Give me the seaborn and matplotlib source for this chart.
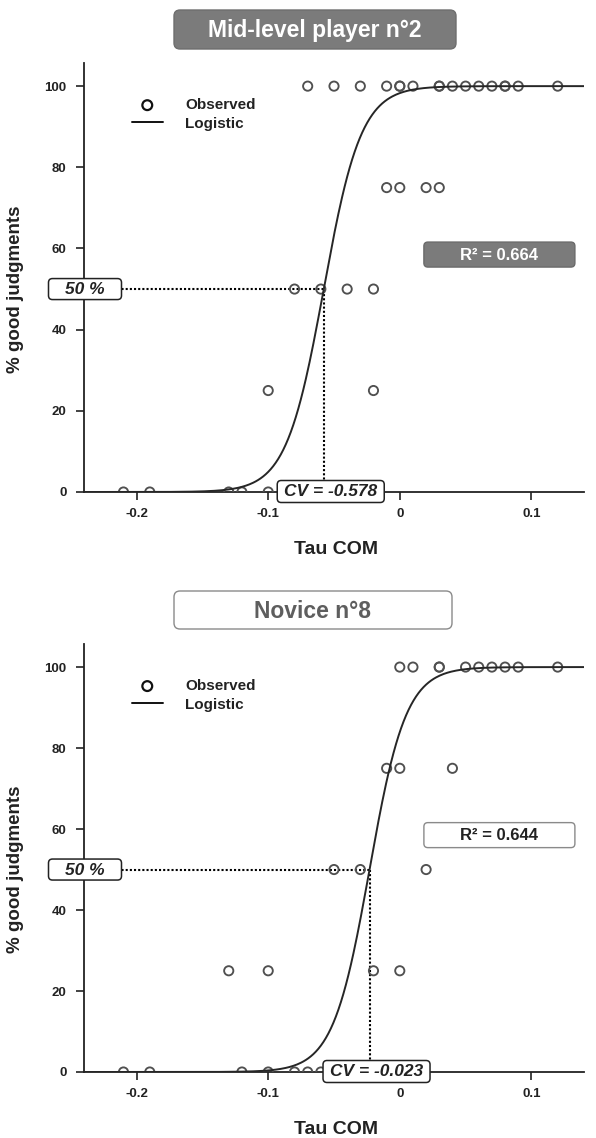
import numpy as np
import pandas as pd
import matplotlib
matplotlib.use("Agg")
import matplotlib.pyplot as plt
import seaborn as sns
from matplotlib.patches import FancyBboxPatch

sns.set_style("ticks")
plt.rcParams["font.family"] = ["Liberation Sans", "DejaVu Sans"]

# ---------------- data ----------------
titles = ["Mid-level player n°2", "Novice n°8"]
r2_labels = ["R² = 0.664", "R² = 0.644"]
cv_labels = ["CV = -0.578", "CV = -0.023"]

# panel 1 : Mid-level player n°2
p1_x100 = [-0.07, -0.05, -0.03, -0.01, 0.0, 0.0, 0.01, 0.03, 0.03, 0.04, 0.05,
           0.06, 0.07, 0.08, 0.08, 0.09, 0.12]
p1_x75 = [-0.01, 0.0, 0.02, 0.03]
p1_x50 = [-0.08, -0.06, -0.04, -0.02]
p1_x25 = [-0.10, -0.02]
p1_x0 = [-0.21, -0.19, -0.13, -0.12, -0.10]
p1_mid = -0.0578
p1_slope = 70.0

# panel 2 : Novice n°8
p2_x100 = [0.0, 0.01, 0.03, 0.03, 0.05, 0.06, 0.07, 0.08, 0.09, 0.12]
p2_x75 = [-0.01, 0.0, 0.04]
p2_x50 = [-0.05, -0.03, 0.02]
p2_x25 = [-0.13, -0.10, -0.02, 0.0]
p2_x0 = [-0.21, -0.19, -0.12, -0.10, -0.08, -0.07, -0.06]
p2_mid = -0.023
p2_slope = 72.0

x_ticks = [-0.2, -0.1, 0.0, 0.1]
x_tick_labels = ["-0.2", "-0.1", "0", "0.1"]
y_ticks = [0, 20, 40, 60, 80, 100]
y_tick_labels = ["0", "20", "40", "60", "80", "100"]
xlim = (-0.24, 0.14)
ylim = (0, 105.7)


def panel_df(x100, x75, x50, x25, x0):
    xs = list(x100) + list(x75) + list(x50) + list(x25) + list(x0)
    ys = ([100] * len(x100) + [75] * len(x75) + [50] * len(x50)
          + [25] * len(x25) + [0] * len(x0))
    return pd.DataFrame({"tau": xs, "pct": ys})


panels = [
    (panel_df(p1_x100, p1_x75, p1_x50, p1_x25, p1_x0), p1_mid, p1_slope),
    (panel_df(p2_x100, p2_x75, p2_x50, p2_x25, p2_x0), p2_mid, p2_slope),
]

# ---------------- figure ----------------
W, H, DPI = 596, 1138, 100
fig = plt.figure(figsize=(W / DPI, H / DPI), dpi=DPI)
ax1 = fig.add_axes([84 / W, (H - 492) / H, 500 / W, 429 / H])
ax2 = fig.add_axes([84 / W, (H - 1072) / H, 500 / W, 428 / H])
axes = [ax1, ax2]

INK = "#222222"


def px_box(cx, cy, w, h, fc, ec, lw, r, z=5):
    p = FancyBboxPatch(((cx - w / 2) / DPI, (H - cy - h / 2) / DPI), w / DPI, h / DPI,
                       boxstyle=f"round,pad=0,rounding_size={r / DPI}",
                       transform=fig.dpi_scale_trans, fc=fc, ec=ec, lw=lw, zorder=z)
    fig.add_artist(p)


def px_text(cx, cy, s, z=6, **kw):
    fig.text(cx / DPI, (H - cy) / DPI, s, transform=fig.dpi_scale_trans,
             ha="center", va="center", zorder=z, **kw)


def data_px(ax, x, y):
    d = ax.transData.transform((x, y))
    return d[0], H - d[1]


for i, (ax, (df, mid, k)) in enumerate(zip(axes, panels)):
    xg = np.linspace(xlim[0], xlim[1], 400)
    yg = 100.0 / (1.0 + np.exp(-k * (xg - mid)))
    sns.scatterplot(data=df, x="tau", y="pct", ax=ax, s=44, marker="o",
                    facecolors="none", edgecolor="#505050", linewidth=1.35,
                    label="Observed", zorder=3)
    sns.lineplot(x=xg, y=yg, ax=ax, color="#262626", lw=1.4, label="Logistic",
                 zorder=4)
    ax.hlines(50, xlim[0], mid, colors="black", linestyles=(0, (1, 1)), lw=1.5, zorder=2)
    ax.vlines(mid, 0, 50, colors="black", linestyles=(0, (1, 1)), lw=1.5, zorder=2)

    ax.set_xlim(*xlim)
    ax.set_ylim(*ylim)
    ax.set_xticks(x_ticks)
    ax.set_xticklabels(x_tick_labels, fontweight="bold", fontsize=9.5, color=INK)
    ax.set_yticks(y_ticks)
    ax.set_yticklabels(y_tick_labels, fontweight="bold", fontsize=9.5, color=INK)
    ax.tick_params(axis="both", direction="out", length=5.5, width=1.2, color=INK)
    ax.tick_params(axis="x", pad=6)
    ax.tick_params(axis="y", pad=7)
    for s in ["top", "right"]:
        ax.spines[s].set_visible(False)
    for s in ["left", "bottom"]:
        ax.spines[s].set_linewidth(1.3)
        ax.spines[s].set_color(INK)

    ax.set_xlabel("Tau COM", fontsize=14, fontweight="bold", color=INK, va="top")
    ax.set_ylabel("% good judgments", fontsize=13.5, fontweight="bold", color=INK)
    ax.xaxis.set_label_coords(0.504, -0.114)
    ax.yaxis.set_label_coords(-0.12, 50 / ylim[1])

    handles, labels = ax.get_legend_handles_labels()
    leg = ax.legend(handles, labels, loc="upper left", bbox_to_anchor=(0.096, 0.918),
                    frameon=False, borderpad=0, borderaxespad=0, handlelength=2.0,
                    handletextpad=1.5, labelspacing=0.3,
                    prop={"weight": "bold", "size": 11})
    for t in leg.get_texts():
        t.set_color(INK)
    try:
        mh = leg.legend_handles[0]
        mh.set_edgecolor("#111111")
        mh.set_facecolor("none")
        mh.set_sizes([50])
        mh.set_linewidth(1.6)
    except Exception:
        pass
    leg.legend_handles[1].set_color("#111111")

    # R² box
    rx, ry = data_px(ax, 0.0757, 58.5)
    if i == 0:
        px_box(rx, ry, 151, 25, "#7b7b7b", "#6a6a6a", 1.0, 4)
        px_text(rx, ry + 0.5, r2_labels[i], color="white", fontsize=12, fontweight="bold")
    else:
        px_box(rx, ry, 151, 25, "white", "#8a8a8a", 1.0, 4)
        px_text(rx, ry + 0.5, r2_labels[i], color=INK, fontsize=12, fontweight="bold")

    # 50 % box
    bx, by = data_px(ax, xlim[0], 50)
    px_box(bx + 1, by, 73, 21, "white", INK, 1.1, 4)
    px_text(bx + 1, by + 0.5, "50 %", color=INK, fontsize=12.5, fontweight="bold",
            fontstyle="italic")

    # CV box
    cx, cy = data_px(ax, mid, 0)
    px_box(cx + 7, cy - 0.5, 107, 22, "white", INK, 1.1, 4)
    px_text(cx + 7, cy, cv_labels[i], color=INK, fontsize=12.5, fontweight="bold",
            fontstyle="italic")

# titles
px_box(315, 29.5, 282, 39, "#7b7b7b", "#6e6e6e", 1.0, 6)
px_text(315, 30.5, titles[0], color="white", fontsize=16.5, fontweight="bold")
px_box(313, 610, 278, 38, "white", "#8a8a8a", 1.0, 6)
px_text(313, 611, titles[1], color="#5e5e5e", fontsize=16.5, fontweight="bold")

fig.savefig("out.png", dpi=DPI)
